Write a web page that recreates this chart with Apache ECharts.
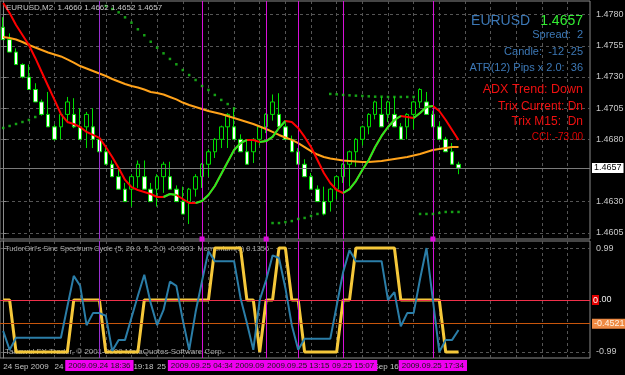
<!DOCTYPE html>
<html><head><meta charset="utf-8">
<script src="https://cdn.jsdelivr.net/npm/echarts@6/dist/echarts.min.js"></script>
<style>html,body{margin:0;padding:0;background:#000;}#c{width:625px;height:375px;}</style>
</head><body><div id="c"></div>
<script>
// ---------- main pane: renko candles (EURUSD) ----------
const opens = [1.4770,1.4760,1.4750,1.4740,1.4730,1.4720,1.4710,1.4700,1.4690,1.4690,
  1.4700,1.4700,1.4690,1.4690,1.4690,1.4680,1.4670,1.4660,1.4650,1.4640,
  1.4640,1.4650,1.4650,1.4640,1.4640,1.4650,1.4650,1.4640,1.4630,1.4630,
  1.4640,1.4650,1.4660,1.4670,1.4680,1.4690,1.4690,1.4680,1.4670,1.4670,
  1.4680,1.4690,1.4700,1.4700,1.4690,1.4680,1.4670,1.4660,1.4650,1.4640,
  1.4630,1.4630,1.4640,1.4650,1.4660,1.4670,1.4680,1.4690,1.4700,1.4700,
  1.4700,1.4700,1.4690,1.4690,1.4700,1.4710,1.4710,1.4700,1.4690,1.4680,
  1.4670,1.4660];
const closes = [1.4760,1.4750,1.4740,1.4730,1.4720,1.4710,1.4700,1.4690,1.4680,1.4700,
  1.4710,1.4690,1.4680,1.4700,1.4680,1.4670,1.4660,1.4650,1.4640,1.4630,
  1.4650,1.4660,1.4640,1.4630,1.4650,1.4660,1.4640,1.4630,1.4620,1.4640,
  1.4650,1.4660,1.4670,1.4680,1.4690,1.4700,1.4680,1.4670,1.4660,1.4680,
  1.4690,1.4700,1.4710,1.4690,1.4680,1.4670,1.4660,1.4650,1.4640,1.4630,
  1.4620,1.4640,1.4650,1.4660,1.4670,1.4680,1.4690,1.4700,1.4710,1.4690,
  1.4710,1.4690,1.4680,1.4700,1.4710,1.4720,1.4700,1.4690,1.4680,1.4670,
  1.4660,1.4657];
const lows = [1.4760,1.4750,1.4740,1.4729,1.4720,1.4710,1.4699,1.4690,1.4679,1.4680,
  1.4693,1.4689,1.4680,1.4673,1.4673,1.4670,1.4660,1.4650,1.4640,1.4630,
  1.4626,1.4641,1.4640,1.4630,1.4626,1.4637,1.4640,1.4630,1.4620,1.4612,
  1.4634,1.4641,1.4650,1.4665,1.4673,1.4673,1.4680,1.4670,1.4660,1.4661,
  1.4675,1.4685,1.4695,1.4690,1.4680,1.4670,1.4660,1.4650,1.4640,1.4630,
  1.4619,1.4622,1.4632,1.4645,1.4642,1.4658,1.4675,1.4684,1.4696,1.4690,
  1.4694,1.4690,1.4680,1.4680,1.4688,1.4705,1.4700,1.4690,1.4680,1.4670,
  1.4660,1.4652];
const highs = [1.4778,1.4765,1.4753,1.4741,1.4740,1.4725,1.4712,1.4718,1.4692,1.4702,
  1.4714,1.4713,1.4705,1.4702,1.4705,1.4683,1.4675,1.4663,1.4657,1.4645,
  1.4652,1.4663,1.4663,1.4645,1.4652,1.4662,1.4662,1.4643,1.4642,1.4641,
  1.4652,1.4661,1.4672,1.4681,1.4691,1.4701,1.4705,1.4684,1.4680,1.4681,
  1.4691,1.4701,1.4716,1.4717,1.4693,1.4683,1.4673,1.4664,1.4653,1.4643,
  1.4642,1.4641,1.4651,1.4661,1.4671,1.4681,1.4691,1.4701,1.4711,1.4714,
  1.4711,1.4714,1.4693,1.4701,1.4711,1.4721,1.4718,1.4703,1.4694,1.4682,
  1.4677,1.4662];
// fast MA (red falling / green rising)
const maFast = [1.47894,1.47814,1.47717,1.47637,1.47557,1.47453,1.47340,1.47228,1.47116,1.47003,
  1.46939,1.46923,1.46899,1.46859,1.46835,1.46811,1.46738,1.46658,1.46570,1.46474,
  1.46417,1.46393,1.46377,1.46361,1.46337,1.46337,1.46361,1.46353,1.46321,1.46289,
  1.46289,1.46305,1.46353,1.46425,1.46522,1.46618,1.46714,1.46770,1.46795,1.46795,
  1.46778,1.46786,1.46819,1.46891,1.46947,1.46939,1.46891,1.46819,1.46738,1.46634,
  1.46530,1.46449,1.46393,1.46369,1.46401,1.46465,1.46554,1.46634,1.46738,1.46827,
  1.46899,1.46955,1.46987,1.46979,1.46971,1.47011,1.47059,1.47067,1.47027,1.46955,
  1.46875,1.46795];
const maFastRising = [[25,27],[30,38],[40,44],[53,62],[64,67]];
// slow MA (orange)
const maSlow = [1.47621,1.47613,1.47601,1.47581,1.47557,1.47537,1.47517,1.47497,1.47481,1.47465,
  1.47441,1.47416,1.47388,1.47368,1.47348,1.47328,1.47308,1.47284,1.47264,1.47244,
  1.47228,1.47216,1.47200,1.47180,1.47172,1.47160,1.47140,1.47120,1.47095,1.47075,
  1.47059,1.47043,1.47027,1.47015,1.47003,1.46987,1.46971,1.46955,1.46939,1.46923,
  1.46903,1.46883,1.46859,1.46835,1.46815,1.46795,1.46770,1.46738,1.46706,1.46678,
  1.46658,1.46646,1.46638,1.46630,1.46626,1.46622,1.46618,1.46618,1.46622,1.46626,
  1.46634,1.46642,1.46650,1.46658,1.46670,1.46682,1.46698,1.46714,1.46722,1.46730,
  1.46738,1.46738];
// parabolic dots
const sar = [1.46891,1.46907,1.46923,1.46939,1.46955,1.46979,
  null,null,null,null,null,null,null,null,null,null,
  1.47870,1.47846,1.47819,1.47779,1.47736,1.47683,1.47635,1.47583,1.47535,1.47490,
  1.47445,1.47402,1.47356,1.47316,1.47276,1.47228,1.47196,1.47156,1.47116,1.47083,1.47049,
  null,null,null,null,null,
  1.46128,1.46128,1.46136,1.46144,1.46161,1.46169,1.46185,1.46201,
  null,
  1.47164,1.47161,1.47156,1.47153,1.47150,1.47148,1.47145,1.47142,1.47142,1.47140,
  1.47140,1.47140,1.47140,1.47140,
  1.46201,1.46201,1.46201,1.46209,1.46217,1.46217,1.46217];
const bidPrice = 1.4657;
const priceTicks = [1.4605,1.4630,1.4680,1.4705,1.4730,1.4755,1.4780];

// ---------- lower pane ----------
const sincCycle = [0,0,-0.99,-0.99,-0.99,-0.99,-0.99,-0.99,-0.99,-0.99,
  -0.99,0,0,0,0,0,-0.99,-0.99,-0.99,-0.99,
  -0.99,-0.99,0,0,0,0,0,0,0,0,
  0,0,0,0.99,0.99,0.99,0.99,0.99,0,0,
  -0.99,0,0,0.99,0.99,0,0,-0.99,-0.99,-0.99,
  -0.99,-0.99,-0.99,0,0,0.99,0.99,0.99,0.99,0.99,
  0.99,0.99,0,0,0,0,0,0,0,-0.99,
  -0.99,-0.99];
const momentum = [-0.59,-0.95,-0.72,-0.72,-0.72,-0.72,-0.72,-0.72,-0.72,-0.72,
  -0.13,0.46,0.27,-0.48,-0.25,-0.25,-0.30,-0.97,-0.76,-0.76,
  -0.34,0.08,0.48,-0.06,-0.48,-0.19,0.35,0.27,-0.38,-0.95,
  -0.23,0.36,0.93,0.74,0.74,0.74,0.74,0.04,-0.44,-0.95,
  0.00,0.38,0.85,0.80,0.23,-0.48,-0.95,-0.74,-0.74,-0.74,
  -0.74,-0.74,-0.11,0.53,0.95,0.74,0.74,0.74,0.74,0.74,
  0.00,0.15,-0.50,-0.25,-0.25,0.40,0.99,0.00,-0.99,-0.76,
  -0.76,-0.57];
const oscTicks = [-0.99, 0.99];
const oscZero = 0;
const oscLevel = -0.4521;

// ---------- time axis ----------
const timeLabelIdx = [0, 8, 16, 24, 56];
const timeLabelText = ['24 Sep 2009', '24 Sep 17:54', '24 Sep 19:18', '25 Sep 01:40', '25 Sep 16:04'];
const vLineIdx = [15, 31, 41, 53, 46, 67];
const vLineText = ['2009.09.24 18:36', '2009.09.25 04:34', '2009.09.25 11:28', '2009.09.25 15:07', '2009.09.25 13:15', '2009.09.25 17:34'];
const vLineMarked = [false, true, true, false, false, true];
const gridColumns = [4,8,12,16,20,24,28,32,36,40,44,48,52,56,60,64,68,72,76,80,84,88];
const slotCount = 92;

// ---------- build ----------
const FONT = '"Liberation Sans", Arial, sans-serif';
const cats = Array.from({length: slotCount}, (_, i) => String(i));
const frame = '#8a8a8a';
const dash = {color: '#555555', type: [3, 3], width: 1};
const magenta = '#d810d8';
const purple = '#9a30d0';
const timeMap = {};
timeLabelIdx.forEach((k, j) => { timeMap[k] = timeLabelText[j]; });

const candleData = opens.map((o, i) => [o, closes[i], lows[i], highs[i]]);
const maGreen = maFast.map((v, i) => maFastRising.some(([a, b]) => i >= a && i <= b) ? v : null);
const sarData = sar.map((v, i) => v === null ? null : [i, v]).filter(d => d);

const vColor = j => (j === 0 ? purple : magenta);

const option = {
  backgroundColor: '#000000',
  animation: false,
  grid: [
    {left: 0, top: 1, width: 590, height: 238, show: true, borderColor: frame, borderWidth: 1, backgroundColor: 'transparent', outerBoundsMode: 'none', containLabel: false},
    {left: 0, top: 241, width: 590, height: 117, show: true, borderColor: frame, borderWidth: 1, backgroundColor: 'transparent', outerBoundsMode: 'none', containLabel: false}
  ],
  xAxis: [
    {type: 'category', gridIndex: 0, data: cats, boundaryGap: true,
     axisLine: {show: false}, axisTick: {show: false}, axisLabel: {show: false}, splitLine: {show: false}},
    {type: 'category', gridIndex: 1, data: cats, boundaryGap: true,
     axisLine: {show: false}, axisTick: {show: false}, splitLine: {show: false},
     axisLabel: {show: true, interval: (idx) => (idx in timeMap), formatter: (v, idx) => timeMap[idx] || '',
       align: 'left', margin: 5, color: '#c4c4c4', fontSize: 8, fontFamily: FONT}},
    {type: 'value', gridIndex: 0, min: -0.5, max: slotCount - 0.5,
     axisLine: {show: false}, axisLabel: {show: false},
     axisTick: {show: false, customValues: gridColumns},
     splitLine: {show: true, lineStyle: dash}},
    {type: 'value', gridIndex: 1, min: -0.5, max: slotCount - 0.5,
     axisLine: {show: false}, axisLabel: {show: false},
     axisTick: {show: false, customValues: gridColumns},
     splitLine: {show: true, lineStyle: dash}}
  ],
  yAxis: [
    {type: 'value', gridIndex: 0, position: 'right', min: 1.4600, max: 1.4791, scale: true,
     axisLine: {show: true, lineStyle: {color: frame}},
     axisTick: {show: true, length: 3, lineStyle: {color: frame}, customValues: priceTicks},
     axisLabel: {show: true, customValues: priceTicks, formatter: v => v.toFixed(4), margin: 6,
       color: '#c8c8c8', fontSize: 9, fontFamily: FONT},
     splitLine: {show: true, lineStyle: dash}},
    {type: 'value', gridIndex: 1, position: 'right', min: -1.105, max: 1.124,
     axisLine: {show: true, lineStyle: {color: frame}},
     axisTick: {show: true, length: 3, lineStyle: {color: frame}, customValues: oscTicks},
     axisLabel: {show: true, customValues: oscTicks, formatter: v => v.toFixed(2), margin: 6,
       color: '#c8c8c8', fontSize: 9, fontFamily: FONT},
     splitLine: {show: true, lineStyle: dash}}
  ],
  series: [
    {type: 'candlestick', xAxisIndex: 0, yAxisIndex: 0, data: candleData, barWidth: 4, z: 3,
     itemStyle: {color: '#000000', color0: '#ffffff', borderColor: '#00dd00', borderColor0: '#00dd00', borderWidth: 1}},
    {type: 'line', xAxisIndex: 0, yAxisIndex: 0, data: maSlow, symbol: 'none', z: 4,
     lineStyle: {color: '#ffa21a', width: 2},
     markLine: {silent: true, symbol: 'none', animation: false, precision: 4,
       data: [{yAxis: bidPrice, lineStyle: {color: '#7a7a7a', type: 'solid', width: 1},
               label: {show: true, position: 'end', formatter: bidPrice.toFixed(4), distance: 2,
                 backgroundColor: '#ffffff', color: '#000000', padding: [1, 2, 0, 2], fontSize: 9, fontFamily: FONT}}]}},
    {type: 'line', xAxisIndex: 0, yAxisIndex: 0, data: maFast, symbol: 'none', z: 5,
     lineStyle: {color: '#ff0000', width: 2}},
    {type: 'line', xAxisIndex: 0, yAxisIndex: 0, data: maGreen, symbol: 'none', z: 6, connectNulls: false,
     lineStyle: {color: '#22ee22', width: 2}},
    {type: 'scatter', xAxisIndex: 0, yAxisIndex: 0, data: sarData, symbol: 'rect', symbolSize: 2.5, z: 6,
     itemStyle: {color: '#1cc81c'},
     markLine: {silent: true, symbol: 'none', animation: false, label: {show: false},
       data: vLineIdx.map((k, j) => Object.assign({xAxis: k, lineStyle: {color: vColor(j), width: 1, type: 'solid'}},
         vLineMarked[j] ? {symbol: 'rect', symbolSize: 5} : {}))}},
    {type: 'line', xAxisIndex: 1, yAxisIndex: 1, data: sincCycle, symbol: 'none', z: 4,
     lineStyle: {color: '#f6c83a', width: 3}},
    {type: 'line', xAxisIndex: 1, yAxisIndex: 1, data: momentum, symbol: 'none', z: 5,
     lineStyle: {color: '#2b7ea8', width: 2},
     markLine: {silent: true, symbol: 'none', animation: false, precision: 4,
       data: [
         {yAxis: oscZero, lineStyle: {color: '#f0304a', type: 'solid', width: 1},
          label: {show: true, position: 'end', distance: 2, formatter: '{r|0}{w|.00}',
            rich: {r: {backgroundColor: '#e00000', color: '#ffffff', fontSize: 9, fontFamily: FONT, padding: [1, 1, 0, 1]},
                   w: {color: '#e8e8e8', fontSize: 9, fontFamily: FONT}}}},
         {yAxis: oscLevel, lineStyle: {color: '#c8560c', type: 'solid', width: 1},
          label: {show: true, position: 'end', distance: 2, formatter: oscLevel.toFixed(4),
            backgroundColor: '#ee8a44', color: '#fff3e2', padding: [1, 2, 0, 2], fontSize: 9, fontFamily: FONT}}
       ].concat(vLineIdx.map((k, j) => ({xAxis: k, lineStyle: {color: vColor(j), width: 1, type: 'solid'},
          label: {show: true, position: 'start', distance: 2, formatter: vLineText[j],
            backgroundColor: '#f000f0', color: '#161616', padding: [2, 3, 1, 3], fontSize: 8, fontFamily: FONT}})))}}
  ],
  graphic: [
    {type: 'text', x: 6, y: 8, z: 100, style: {text: 'EURUSD,M2  1.4660 1.4662 1.4652 1.4657', fill: '#c8c8c8',
      font: '8px ' + FONT, verticalAlign: 'middle'}},
    {type: 'text', x: 583, y: 21, z: 100, style: {text: '{a|EURUSD}   {b|1.4657}', align: 'right', verticalAlign: 'middle',
      rich: {a: {fill: '#3c78b6', font: '14px ' + FONT}, b: {fill: '#33ee33', font: '14px ' + FONT}}}},
    {type: 'text', x: 583, y: 35, z: 100, style: {text: 'Spread:  2', fill: '#3c78b6', font: '11px ' + FONT, align: 'right', verticalAlign: 'middle'}},
    {type: 'text', x: 583, y: 52, z: 100, style: {text: 'Candle:  -12 -25', fill: '#3c78b6', font: '11px ' + FONT, align: 'right', verticalAlign: 'middle'}},
    {type: 'text', x: 583, y: 68, z: 100, style: {text: 'ATR(12) Pips x 2.0:  36', fill: '#3c78b6', font: '11px ' + FONT, align: 'right', verticalAlign: 'middle'}},
    {type: 'text', x: 583, y: 90, z: 100, style: {text: 'ADX Trend: Down', fill: '#f01010', font: '12.5px ' + FONT, align: 'right', verticalAlign: 'middle'}},
    {type: 'text', x: 583, y: 107, z: 100, style: {text: 'Trix Current: Dn', fill: '#f01010', font: '12px ' + FONT, align: 'right', verticalAlign: 'middle'}},
    {type: 'text', x: 583, y: 122, z: 100, style: {text: 'Trix M15:  Dn', fill: '#f01010', font: '12px ' + FONT, align: 'right', verticalAlign: 'middle'}},
    {type: 'text', x: 583, y: 137, z: 100, style: {text: 'CCI: -73.00', fill: '#e00000', font: '10px ' + FONT, align: 'right', verticalAlign: 'middle'}},
    {type: 'text', x: 5, y: 249, z: 1, style: {text: "TudorGirl's Sinc Spectrum Cycle (5, 20.0, 5, 2.0) -0.9903  Momentum(3) 0.1356",
      fill: '#a8a8a8', font: '7.5px ' + FONT, verticalAlign: 'middle'}},
    {type: 'text', x: 5, y: 352, z: 1, style: {text: 'Tadawul FX Trader, \u00a9 2001-2009 MetaQuotes Software Corp.',
      fill: '#a8a8a8', font: '8px ' + FONT, verticalAlign: 'middle'}}
  ]
};

const chart = echarts.init(document.getElementById('c'), null, {renderer: 'canvas', width: 625, height: 375});
chart.setOption(option);
</script>
</body></html>
